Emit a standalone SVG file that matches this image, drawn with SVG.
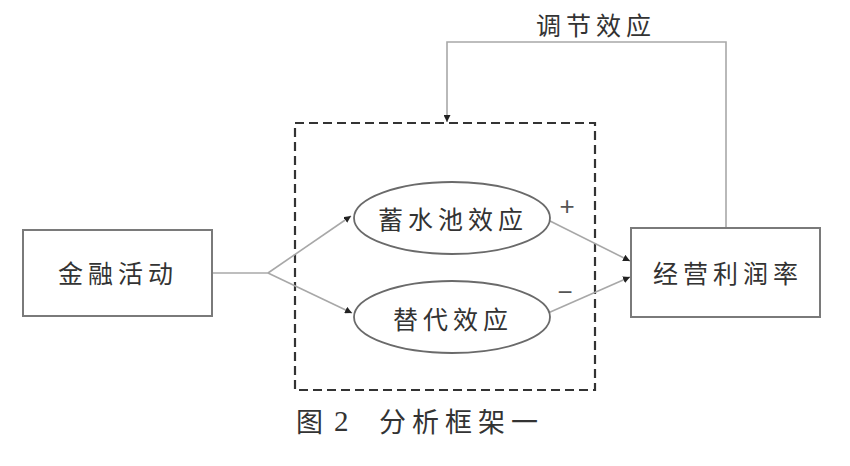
<svg xmlns="http://www.w3.org/2000/svg" width="850" height="466" viewBox="0 0 850 466">
<defs>
<marker id="ah" viewBox="0 0 10 10" refX="10" refY="5" markerWidth="7" markerHeight="7" markerUnits="userSpaceOnUse" orient="auto">
<path d="M0,0 L10,5 L0,10 z" fill="#222"/>
</marker>
<style>
.box{fill:#fff;stroke:#7a7a7a;stroke-width:2}
.ell{fill:#fff;stroke:#6a6a6a;stroke-width:1.8}
.ln{fill:none;stroke:#a8a8a8;stroke-width:1.6}
.dash{fill:none;stroke:#333;stroke-width:2.2;stroke-dasharray:9,5}
.t{font-family:"Noto Sans CJK SC","Liberation Serif",serif;font-size:25px;fill:#333;text-anchor:middle;dominant-baseline:central;letter-spacing:5px}
.c{font-family:"Noto Sans CJK SC","Liberation Serif",serif;font-size:27px;fill:#333;dominant-baseline:central}
.s{font-family:"Liberation Sans",sans-serif;font-size:26px;fill:#555;text-anchor:middle;dominant-baseline:central}
</style>
</defs>
<rect class="dash" x="295" y="123" width="300" height="267"/>
<g id="connectors">
<polyline class="ln" points="212,273 268,273"/>
<line class="ln" x1="268" y1="273" x2="351" y2="216" marker-end="url(#ah)"/>
<line class="ln" x1="268" y1="273" x2="352" y2="313" marker-end="url(#ah)"/>
<line class="ln" x1="548" y1="220" x2="630" y2="261" marker-end="url(#ah)"/>
<line class="ln" x1="548" y1="313" x2="630" y2="277" marker-end="url(#ah)"/>
<polyline class="ln" points="726,228 726,42 447,42 447,122" marker-end="url(#ah)"/>
</g>
<g id="n1"><rect class="box" x="23" y="230" width="189" height="86"/><text class="t" x="118" y="272">金融活动</text></g>
<g id="n2"><ellipse class="ell" cx="452" cy="218" rx="98" ry="36"/><text class="t" x="453" y="218">蓄水池效应</text></g>
<g id="n3"><ellipse class="ell" cx="452" cy="317" rx="98" ry="36"/><text class="t" x="453" y="318">替代效应</text></g>
<g id="n4"><rect class="box" x="631" y="228" width="189" height="89"/><text class="t" x="728" y="272">经营利润率</text></g>
<text class="s" x="567" y="206">+</text>
<text class="s" x="565" y="292">−</text>
<text class="t" x="596" y="24">调节效应</text>
<text class="c" x="296" y="420">图</text>
<text class="c" x="334" y="421" style="font-family:'Liberation Serif',serif;font-size:29px">2</text>
<text class="c" x="379" y="420" style="letter-spacing:6px">分析框架一</text>
</svg>
